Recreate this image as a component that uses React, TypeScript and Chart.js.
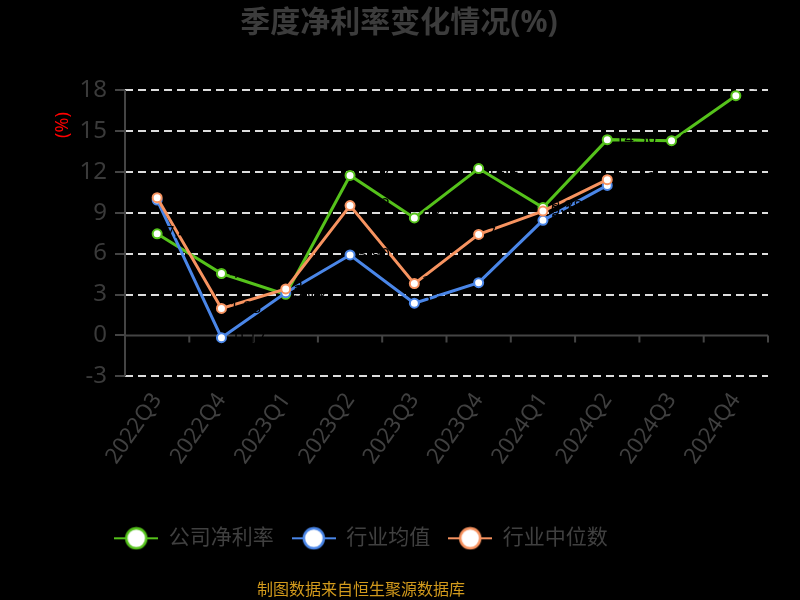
import React, { useEffect, useRef } from "react";
import { Chart, registerables } from "chart.js";

Chart.register(...registerables);

const categories = ["2022Q3", "2022Q4", "2023Q1", "2023Q2", "2023Q3", "2023Q4", "2024Q1", "2024Q2", "2024Q3", "2024Q4"];
const companyMargin = [7.45, 4.54, 3.01, 11.73, 8.62, 12.24, 9.38, 14.36, 14.28, 17.58];
const industryAvg = [9.93, -0.17, 3.13, 5.9, 2.36, 3.87, 8.44, 11.0, null, null];
const industryMedian = [10.1, 1.98, 3.41, 9.52, 3.8, 7.41, 9.12, 11.42, null, null];
const seriesNames = ["公司净利率", "行业均值", "行业中位数"];
const seriesColors = ["#55c21b", "#4a86e8", "#f79360"];
const yTicks = { min: -3, max: 18, step: 3 };
const titleText = "季度净利率变化情况(%)";
const footerText = "制图数据来自恒生聚源数据库";
const unitText = "(%)";

const FONT = "'Noto Sans', 'Noto Sans CJK SC', sans-serif";
const TEXT_GRAY = "#404040";
const AXIS_GRAY = "#444444";

function legendIcon(color: string): HTMLCanvasElement {
  const c = document.createElement("canvas");
  c.width = 44;
  c.height = 24;
  const g = c.getContext("2d")!;
  g.strokeStyle = color;
  g.lineWidth = 2;
  g.beginPath();
  g.moveTo(0, 12);
  g.lineTo(44, 12);
  g.stroke();
  g.beginPath();
  g.arc(22, 12, 10, 0, Math.PI * 2);
  g.fillStyle = "#ffffff";
  g.fill();
  g.lineWidth = 2.5;
  g.stroke();
  return c;
}

const decorPlugin = {
  id: "decor",
  beforeDraw(chart: any) {
    const { ctx, width, height } = chart;
    ctx.save();
    ctx.fillStyle = "#000000";
    ctx.fillRect(0, 0, width, height);
    ctx.restore();
  },
  afterLayout(chart: any) {
    // place legend / footer / title horizontally like the reference
    const shift = -39;
    chart.boxes.forEach((b: any) => {
      if (b === chart.legend || (b.options && b.options.text === footerText)) {
        b.left = shift;
        b.right = shift + chart.width;
      } else if (b.options && b.options.text === titleText) {
        b.left = 0;
        b.right = chart.width - 2;
      }
    });
  },
  beforeDatasetsDraw(chart: any) {
    const { ctx, chartArea } = chart;
    const x = chart.scales.x;
    const y = chart.scales.y;
    ctx.save();
    ctx.strokeStyle = AXIS_GRAY;
    ctx.lineWidth = 2;
    // y axis line
    ctx.beginPath();
    ctx.moveTo(chartArea.left, chartArea.top);
    ctx.lineTo(chartArea.left, chartArea.bottom);
    ctx.stroke();
    // zero line with category ticks
    const y0 = y.getPixelForValue(0);
    ctx.beginPath();
    ctx.moveTo(chartArea.left, y0);
    ctx.lineTo(chartArea.right, y0);
    const n = categories.length;
    for (let i = 0; i <= n; i++) {
      let px: number;
      if (i === 0) px = chartArea.left;
      else if (i === n) px = chartArea.right;
      else px = (x.getPixelForValue(i - 1) + x.getPixelForValue(i)) / 2;
      ctx.moveTo(px, y0);
      ctx.lineTo(px, y0 + 7);
    }
    ctx.stroke();
    // unit label
    ctx.fillStyle = "#ff0000";
    ctx.font = `18px ${FONT}`;
    ctx.textAlign = "center";
    ctx.textBaseline = "middle";
    ctx.translate(63, 125);
    ctx.rotate(-Math.PI / 2);
    ctx.fillText(unitText, 0, 0);
    ctx.restore();
  },
  afterDatasetsDraw(chart: any) {
    const { ctx } = chart;
    ctx.save();
    ctx.fillStyle = "#000000";
    ctx.font = `16px ${FONT}`;
    ctx.textAlign = "left";
    ctx.textBaseline = "middle";
    chart.data.datasets.forEach((ds: any, i: number) => {
      const meta = chart.getDatasetMeta(i);
      meta.data.forEach((pt: any, j: number) => {
        const v = ds.data[j];
        if (v === null || v === undefined) return;
        ctx.fillText(Number(v).toFixed(2), pt.x + 8, pt.y);
      });
    });
    ctx.restore();
  },
};

export default function App() {
  const ref = useRef<HTMLCanvasElement | null>(null);

  useEffect(() => {
    document.body.style.margin = "0";
    document.body.style.background = "#000";
    const canvas = ref.current!;
    const icons = seriesColors.map(legendIcon);
    const mk = (i: number, data: (number | null)[], order: number) => ({
      label: seriesNames[i],
      data,
      borderColor: seriesColors[i],
      backgroundColor: seriesColors[i],
      borderWidth: 3,
      pointRadius: 4.5,
      pointBorderWidth: 2,
      pointBackgroundColor: "#ffffff",
      pointBorderColor: seriesColors[i],
      tension: 0,
      order,
    });
    const chart = new Chart(canvas, {
      type: "line",
      data: {
        labels: categories,
        datasets: [mk(0, companyMargin, 2), mk(1, industryAvg, 1), mk(2, industryMedian, 0)],
      },
      options: {
        animation: false,
        responsive: false,
        devicePixelRatio: 1,
        layout: { padding: { left: 0, right: 32, top: 0, bottom: 0 } },
        plugins: {
          tooltip: { enabled: false },
          title: {
            display: true,
            text: titleText,
            color: "#3c3c3c",
            font: { family: FONT, size: 30, weight: "bold" },
            padding: { top: 5, bottom: 49 },
          },
          subtitle: {
            display: true,
            text: footerText,
            position: "bottom",
            color: "#d29a1c",
            font: { family: FONT, size: 16 },
            padding: { top: 22, bottom: 0 },
          },
          legend: {
            display: true,
            position: "bottom",
            align: "center",
            labels: {
              color: TEXT_GRAY,
              font: { family: FONT, size: 21 },
              usePointStyle: true,
              pointStyleWidth: 44,
              padding: 18,
              generateLabels: (ch: any) =>
                ch.data.datasets.map((ds: any, i: number) => ({
                  text: ds.label,
                  fillStyle: "#fff",
                  strokeStyle: seriesColors[i],
                  fontColor: TEXT_GRAY,
                  pointStyle: icons[i],
                  lineWidth: 0,
                  hidden: false,
                  datasetIndex: i,
                })),
            },
          },
        },
        scales: {
          x: {
            type: "category",
            offset: true,
            grid: { display: false, drawTicks: false },
            border: { display: false },
            afterFit: (s: any) => {
              s.height = 133.5;
            },
            ticks: {
              color: TEXT_GRAY,
              font: { family: FONT, size: 22 },
              minRotation: 55,
              maxRotation: 55,
              padding: 12,
              autoSkip: false,
            },
          },
          y: {
            min: yTicks.min,
            max: yTicks.max,
            afterFit: (s: any) => {
              s.width = 125;
            },
            grid: {
              color: (c: any) => (c.tick && c.tick.value === 0 ? "rgba(0,0,0,0)" : "#dddddd"),
              lineWidth: 2,
              drawTicks: true,
              tickLength: 10,
              tickColor: AXIS_GRAY,
              tickWidth: 2,
            },
            border: { display: false, dash: [8, 5] },
            ticks: {
              stepSize: yTicks.step,
              color: "#3a3a3a",
              font: { family: FONT, size: 24 },
              padding: 8,
            },
          },
        },
      },
      plugins: [decorPlugin],
    } as any);
    return () => chart.destroy();
  }, []);

  return (
    <div style={{ width: 800, height: 600, background: "#000" }}>
      <canvas ref={ref} width={800} height={600} style={{ display: "block" }} />
    </div>
  );
}
